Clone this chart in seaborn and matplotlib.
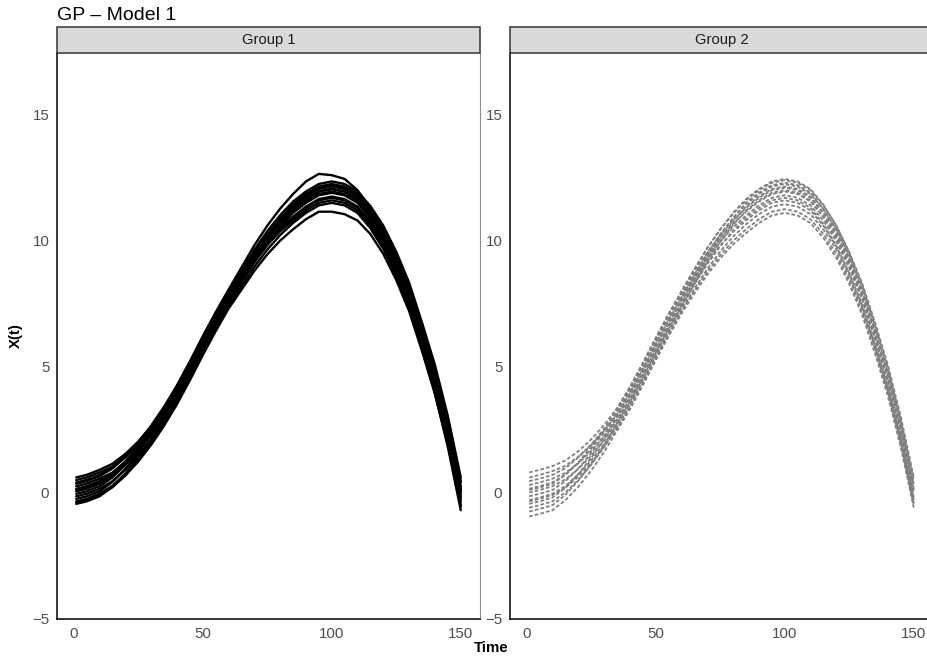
import matplotlib
matplotlib.use("Agg")
import matplotlib.pyplot as plt
from matplotlib.patches import Rectangle
import seaborn as sns
import pandas as pd

# ---------------- data ----------------
TIME = [1, 5, 10, 15, 20, 25, 30, 35, 40, 45, 50, 55, 60, 65, 70, 75, 80,
        85, 90, 95, 100, 105, 110, 115, 120, 125, 130, 135, 140, 145, 150]

PANELS = ["Group 1", "Group 2"]
Y_TICKS = [-5, 0, 5, 10, 15]
X_TICKS = [0, 50, 100, 150]

# Group 1 curves
g1_c1 = [0.60, 0.70, 0.90, 1.14, 1.53, 2.02, 2.61, 3.30, 4.15, 5.10, 6.10, 7.05, 7.95, 8.79, 9.63, 10.37, 11.01, 11.55, 11.95, 12.25, 12.35, 12.25, 11.95, 11.37, 10.59, 9.56, 8.33, 6.74, 5.06, 3.03, 0.60]
g1_c2 = [0.50, 0.60, 0.80, 1.03, 1.41, 1.89, 2.47, 3.15, 4.00, 4.95, 5.95, 6.90, 7.80, 8.64, 9.48, 10.22, 10.86, 11.40, 11.80, 12.10, 12.20, 12.10, 11.80, 11.21, 10.43, 9.39, 8.15, 6.56, 4.88, 2.84, 0.40]
g1_c3 = [0.35, 0.45, 0.65, 0.95, 1.40, 1.95, 2.60, 3.35, 4.20, 5.15, 6.15, 7.10, 8.00, 8.77, 9.54, 10.21, 10.78, 11.25, 11.65, 11.95, 12.05, 11.95, 11.65, 11.06, 10.28, 9.24, 8.00, 6.41, 4.73, 2.69, 0.25]
g1_c4 = [0.25, 0.35, 0.55, 0.79, 1.18, 1.67, 2.26, 2.95, 3.80, 4.75, 5.75, 6.70, 7.60, 8.47, 9.34, 10.11, 10.78, 11.35, 11.75, 12.05, 12.15, 12.05, 11.75, 11.14, 10.33, 9.26, 8.00, 6.39, 4.68, 2.61, 0.15]
g1_c5 = [0.15, 0.25, 0.45, 0.77, 1.24, 1.81, 2.48, 3.25, 4.10, 5.05, 6.05, 7.00, 7.90, 8.67, 9.44, 10.11, 10.68, 11.15, 11.55, 11.85, 11.95, 11.85, 11.55, 10.95, 10.15, 9.10, 7.85, 6.25, 4.55, 2.50, 0.05]
g1_c6 = [0.05, 0.15, 0.35, 0.65, 1.10, 1.65, 2.30, 3.05, 3.90, 4.85, 5.85, 6.80, 7.70, 8.57, 9.44, 10.21, 10.88, 11.45, 11.85, 12.15, 12.25, 12.15, 11.85, 11.20, 10.35, 9.25, 7.95, 6.30, 4.55, 2.45, -0.05]
g1_c7 = [-0.05, 0.05, 0.25, 0.60, 1.10, 1.70, 2.40, 3.20, 4.05, 5.00, 6.00, 6.95, 7.85, 8.59, 9.33, 9.97, 10.51, 10.95, 11.35, 11.65, 11.75, 11.65, 11.35, 10.75, 9.95, 8.90, 7.65, 6.05, 4.35, 2.30, -0.15]
g1_c8 = [-0.15, -0.05, 0.15, 0.45, 0.90, 1.45, 2.10, 2.85, 3.70, 4.65, 5.65, 6.60, 7.50, 8.34, 9.18, 9.92, 10.56, 11.10, 11.50, 11.80, 11.90, 11.80, 11.50, 10.87, 10.04, 8.96, 7.67, 6.04, 4.31, 2.23, -0.25]
g1_c9 = [-0.25, -0.15, 0.05, 0.42, 0.94, 1.56, 2.28, 3.10, 3.95, 4.90, 5.90, 6.85, 7.75, 8.48, 9.21, 9.84, 10.37, 10.80, 11.20, 11.50, 11.60, 11.50, 11.20, 10.59, 9.79, 8.73, 7.47, 5.87, 4.16, 2.11, -0.35]
g1_c10 = [-0.35, -0.25, -0.05, 0.27, 0.74, 1.31, 1.98, 2.75, 3.60, 4.55, 5.55, 6.50, 7.40, 8.18, 8.96, 9.64, 10.22, 10.70, 11.10, 11.40, 11.50, 11.40, 11.10, 10.49, 9.67, 8.61, 7.35, 5.74, 4.02, 1.96, -0.50]
g1_c11 = [-0.45, -0.35, -0.15, 0.22, 0.74, 1.36, 2.08, 2.90, 3.75, 4.70, 5.70, 6.65, 7.55, 8.34, 9.13, 9.82, 10.41, 10.90, 11.30, 11.60, 11.70, 11.60, 11.30, 10.64, 9.77, 8.66, 7.35, 5.69, 3.92, 1.81, -0.70]
g1_c12 = [0.40, 0.50, 0.70, 1.00, 1.45, 2.00, 2.65, 3.40, 4.25, 5.20, 6.20, 7.15, 8.05, 8.93, 9.81, 10.59, 11.27, 11.85, 12.35, 12.65, 12.60, 12.45, 12.00, 11.30, 10.50, 9.45, 8.20, 6.60, 4.90, 2.85, 0.45]
g1_c13 = [-0.40, -0.30, -0.10, 0.21, 0.67, 1.23, 1.89, 2.65, 3.50, 4.45, 5.45, 6.40, 7.30, 8.05, 8.80, 9.45, 10.00, 10.45, 10.85, 11.15, 11.15, 11.05, 10.80, 10.26, 9.47, 8.44, 7.20, 5.61, 3.92, 1.89, -0.55]
g1_c14 = [0.10, 0.20, 0.40, 0.68, 1.11, 1.64, 2.27, 3.00, 3.85, 4.80, 5.80, 6.75, 7.65, 8.49, 9.33, 10.07, 10.71, 11.25, 11.65, 11.95, 12.05, 11.95, 11.65, 11.04, 10.24, 9.18, 7.93, 6.32, 4.62, 2.56, 0.10]

# Group 2 curves
g2_c1 = [0.80, 0.90, 1.05, 1.27, 1.64, 2.11, 2.68, 3.35, 4.20, 5.15, 6.15, 7.10, 8.00, 8.88, 9.71, 10.44, 11.07, 11.60, 12.00, 12.30, 12.40, 12.30, 12.00, 11.40, 10.60, 9.55, 8.30, 6.75, 5.05, 3.00, 0.60]
g2_c2 = [0.60, 0.70, 0.85, 1.06, 1.42, 1.88, 2.44, 3.10, 3.95, 4.90, 5.90, 6.85, 7.75, 8.65, 9.50, 10.25, 10.90, 11.45, 11.85, 12.15, 12.25, 12.15, 11.85, 11.25, 10.45, 9.40, 8.15, 6.60, 4.90, 2.85, 0.45]
g2_c3 = [0.45, 0.55, 0.70, 0.97, 1.39, 1.91, 2.53, 3.25, 4.10, 5.05, 6.05, 7.00, 7.90, 8.74, 9.53, 10.22, 10.81, 11.30, 11.70, 12.00, 12.10, 12.00, 11.70, 11.10, 10.30, 9.25, 8.00, 6.45, 4.75, 2.70, 0.30]
g2_c4 = [0.30, 0.40, 0.55, 0.78, 1.16, 1.64, 2.22, 2.90, 3.75, 4.70, 5.70, 6.65, 7.55, 8.50, 9.40, 10.20, 10.90, 11.50, 11.90, 12.20, 12.30, 12.20, 11.90, 11.26, 10.43, 9.34, 8.05, 6.46, 4.73, 2.64, 0.20]
g2_c5 = [0.15, 0.25, 0.40, 0.71, 1.17, 1.73, 2.39, 3.15, 4.00, 4.95, 5.95, 6.90, 7.80, 8.63, 9.41, 10.09, 10.67, 11.15, 11.55, 11.85, 11.95, 11.85, 11.55, 10.94, 10.14, 9.08, 7.83, 6.27, 4.57, 2.51, 0.10]
g2_c6 = [0.00, 0.10, 0.25, 0.52, 0.94, 1.46, 2.08, 2.80, 3.65, 4.60, 5.60, 6.55, 7.45, 8.39, 9.28, 10.07, 10.76, 11.35, 11.75, 12.05, 12.15, 12.05, 11.75, 11.11, 10.26, 9.17, 7.88, 6.28, 4.54, 2.44, 0.00]
g2_c7 = [-0.15, -0.05, 0.10, 0.45, 0.95, 1.55, 2.25, 3.05, 3.90, 4.85, 5.85, 6.80, 7.70, 8.52, 9.29, 9.96, 10.53, 11.00, 11.40, 11.70, 11.80, 11.70, 11.40, 10.79, 9.97, 8.91, 7.65, 6.09, 4.37, 2.31, -0.10]
g2_c8 = [-0.30, -0.20, -0.05, 0.26, 0.72, 1.28, 1.94, 2.70, 3.55, 4.50, 5.50, 6.45, 7.35, 8.28, 9.16, 9.94, 10.62, 11.20, 11.60, 11.90, 12.00, 11.90, 11.60, 10.95, 10.10, 9.00, 7.70, 6.10, 4.35, 2.25, -0.20]
g2_c9 = [-0.45, -0.35, -0.20, 0.19, 0.73, 1.37, 2.11, 2.95, 3.80, 4.75, 5.75, 6.70, 7.60, 8.40, 9.15, 9.80, 10.35, 10.80, 11.20, 11.50, 11.60, 11.50, 11.20, 10.59, 9.77, 8.71, 7.45, 5.89, 4.17, 2.11, -0.30]
g2_c10 = [-0.60, -0.50, -0.35, 0.00, 0.50, 1.10, 1.80, 2.60, 3.45, 4.40, 5.40, 6.35, 7.25, 8.09, 8.88, 9.57, 10.16, 10.65, 11.05, 11.35, 11.45, 11.35, 11.05, 10.44, 9.64, 8.58, 7.33, 5.77, 4.06, 2.01, -0.40]
g2_c11 = [-0.75, -0.65, -0.50, -0.09, 0.47, 1.13, 1.89, 2.75, 3.60, 4.55, 5.55, 6.50, 7.40, 8.26, 9.07, 9.78, 10.39, 10.90, 11.30, 11.60, 11.70, 11.60, 11.30, 10.65, 9.80, 8.70, 7.40, 5.80, 4.05, 1.95, -0.50]
g2_c12 = [-0.95, -0.85, -0.70, -0.31, 0.23, 0.87, 1.61, 2.45, 3.30, 4.25, 5.25, 6.20, 7.10, 7.90, 8.65, 9.30, 9.85, 10.30, 10.70, 11.00, 11.10, 11.00, 10.70, 10.11, 9.32, 8.29, 7.05, 5.51, 3.82, 1.79, -0.60]
g2_c13 = [0.10, 0.20, 0.35, 0.70, 1.20, 1.80, 2.50, 3.30, 4.15, 5.10, 6.10, 7.05, 7.95, 8.85, 9.70, 10.45, 11.10, 11.65, 12.05, 12.35, 12.45, 12.35, 12.05, 11.42, 10.59, 9.51, 8.23, 6.64, 4.91, 2.83, 0.40]
g2_c14 = [-0.35, -0.25, -0.10, 0.19, 0.63, 1.17, 1.81, 2.55, 3.40, 4.35, 5.35, 6.30, 7.20, 8.01, 8.77, 9.43, 9.99, 10.45, 10.85, 11.15, 11.25, 11.15, 10.85, 10.26, 9.47, 8.44, 7.19, 5.66, 3.97, 1.95, -0.45]

GROUP1 = [g1_c1, g1_c2, g1_c3, g1_c4, g1_c5, g1_c6, g1_c7, g1_c8, g1_c9, g1_c10, g1_c11, g1_c12, g1_c13, g1_c14]
GROUP2 = [g2_c1, g2_c2, g2_c3, g2_c4, g2_c5, g2_c6, g2_c7, g2_c8, g2_c9, g2_c10, g2_c11, g2_c12, g2_c13, g2_c14]


def to_long(curves):
    rows = []
    for k, vals in enumerate(curves):
        for t, v in zip(TIME, vals):
            rows.append({"Time": t, "X": v, "curve": k})
    return pd.DataFrame(rows)


df1 = to_long(GROUP1)
df2 = to_long(GROUP2)

# ---------------- figure ----------------
sns.set_style("white")
plt.rcParams["font.family"] = ["Liberation Sans", "DejaVu Sans"]

W, H = 927, 660
fig = plt.figure(figsize=(W / 100, H / 100), dpi=100)


def fx(px):
    return px / W


def fy(py):
    return 1 - py / H


panel_top, panel_bot = 53, 619
lefts = [57, 510]
pw = 423

for i, (left, df) in enumerate(zip(lefts, [df1, df2])):
    ax = fig.add_axes([fx(left), fy(panel_bot), pw / W, (panel_bot - panel_top) / H])
    if i == 0:
        sns.lineplot(data=df, x="Time", y="X", units="curve", estimator=None,
                     color="black", lw=1.7, ax=ax, sort=False)
    else:
        sns.lineplot(data=df, x="Time", y="X", units="curve", estimator=None,
                     color="#7f7f7f", lw=1.3, dashes=(2.0, 1.2), ax=ax, sort=False)
    ax.set_xlim(-6.45, 157.45)
    ax.set_ylim(-5.02, 17.45)
    ax.set_xticks(X_TICKS)
    ax.set_yticks(Y_TICKS)
    ax.set_xlabel("")
    ax.set_ylabel("")
    ax.tick_params(axis="both", direction="out", length=3.5, width=0.8,
                   color="#333333", labelcolor="#4d4d4d", labelsize=10.8, pad=2)
    for s in ["left", "bottom"]:
        ax.spines[s].set_color("black")
        ax.spines[s].set_linewidth(1.1)
    ax.spines["top"].set_visible(False)
    ax.spines["right"].set_color("#8c8c8c")
    ax.spines["right"].set_linewidth(0.8)
    ax.grid(False)

    # strip
    sax = fig.add_axes([fx(left), fy(panel_top), pw / W, (panel_top - 27) / H])
    sax.set_xlim(0, 1)
    sax.set_ylim(0, 1)
    sax.axis("off")
    sax.add_patch(Rectangle((0, 0), 1, 1, transform=sax.transAxes, facecolor="#d9d9d9",
                            edgecolor="#333333", lw=1.1, clip_on=False))
    sax.text(0.5, 0.5, PANELS[i], ha="center", va="center", fontsize=10.6,
             color="#1a1a1a")

fig.text(fx(57), fy(15), "GP \u2013 Model 1", ha="left", va="center", fontsize=14,
         color="black")
fig.text(fx(491), fy(648), "Time", ha="center", va="center", fontsize=10.8,
         fontweight="bold", color="black")
fig.text(fx(16), fy(336), "X(t)", ha="center", va="center", fontsize=10.8,
         fontweight="bold", rotation=90, color="black")

fig.savefig("out.png", dpi=100)
